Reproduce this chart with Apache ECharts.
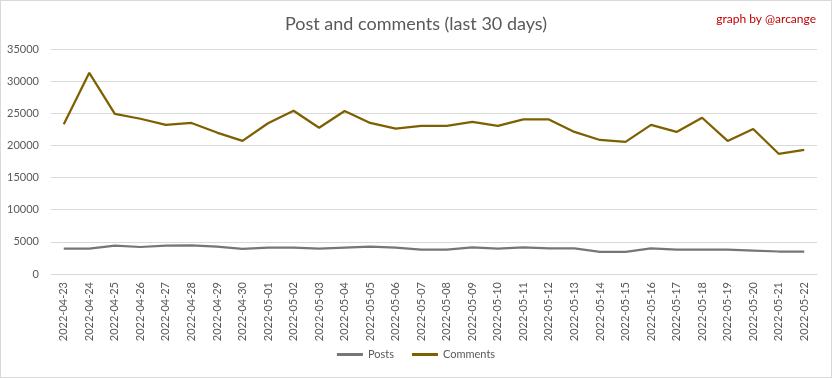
<!DOCTYPE html>
<html>
<head>
<meta charset="utf-8">
<script src="https://cdn.jsdelivr.net/npm/echarts@6/dist/echarts.min.js"></script>
<style>
  html, body { margin: 0; padding: 0; background: #fff; }
  #main { width: 830px; height: 376px; border: 1px solid #d9d9d9; }
</style>
</head>
<body>
<div id="main"></div>
<script>
const dates = [
  "2022-04-23", "2022-04-24", "2022-04-25", "2022-04-26", "2022-04-27", "2022-04-28",
  "2022-04-29", "2022-04-30", "2022-05-01", "2022-05-02", "2022-05-03", "2022-05-04",
  "2022-05-05", "2022-05-06", "2022-05-07", "2022-05-08", "2022-05-09", "2022-05-10",
  "2022-05-11", "2022-05-12", "2022-05-13", "2022-05-14", "2022-05-15", "2022-05-16",
  "2022-05-17", "2022-05-18", "2022-05-19", "2022-05-20", "2022-05-21", "2022-05-22"
];
const posts = [
  3950, 3950, 4400, 4200, 4400, 4450, 4250, 3900, 4100, 4100, 3950, 4100,
  4250, 4100, 3800, 3800, 4150, 3950, 4150, 4000, 4000, 3450, 3450, 4000,
  3800, 3800, 3800, 3650, 3500, 3500
];
const comments = [
  23300, 31300, 24900, 24150, 23200, 23500, 22000, 20700, 23450, 25400, 22750, 25350,
  23500, 22600, 23050, 23050, 23650, 23050, 24050, 24050, 22100, 20850, 20550, 23200,
  22100, 24300, 20700, 22550, 18700, 19300
];

const chart = echarts.init(document.getElementById("main"));
const font = "Lato, 'Liberation Sans', sans-serif";

chart.setOption({
  animation: false,
  textStyle: { fontFamily: font },
  title: [
    {
      text: "Post and comments (last 30 days)",
      left: "center",
      top: 9,
      textStyle: { fontSize: 18, fontWeight: "normal", color: "#595959", fontFamily: font }
    },
    {
      text: "graph by @arcange",
      right: 10,
      top: 7,
      textStyle: { fontSize: 12, fontWeight: "normal", color: "#c00000", fontFamily: font }
    }
  ],
  legend: {
    bottom: 12,
    left: "center",
    itemWidth: 26,
    itemHeight: 3,
    itemGap: 18,
    icon: "rect",
    textStyle: { fontSize: 11, color: "#595959", fontFamily: font },
    data: ["Posts", "Comments"]
  },
  grid: { left: 50, right: 14, top: 48, bottom: 103 },
  xAxis: {
    type: "category",
    data: dates,
    boundaryGap: true,
    axisLine: { lineStyle: { color: "#d9d9d9" } },
    axisTick: { show: false },
    axisLabel: { rotate: 90, interval: 0, fontSize: 11, color: "#595959", margin: 8, fontFamily: font }
  },
  yAxis: {
    type: "value",
    min: 0,
    max: 35000,
    interval: 5000,
    axisLine: { show: false },
    axisTick: { show: false },
    axisLabel: {
      fontSize: 11, color: "#595959", margin: 12, fontFamily: font,
      formatter: (v) => String(v)
    },
    splitLine: { lineStyle: { color: "#d9d9d9" } }
  },
  series: [
    {
      name: "Posts",
      type: "line",
      data: posts,
      showSymbol: false,
      lineStyle: { width: 2.25, color: "#767676" },
      itemStyle: { color: "#767676" }
    },
    {
      name: "Comments",
      type: "line",
      data: comments,
      showSymbol: false,
      lineStyle: { width: 2.25, color: "#7f6000" },
      itemStyle: { color: "#7f6000" }
    }
  ]
});
</script>
</body>
</html>
